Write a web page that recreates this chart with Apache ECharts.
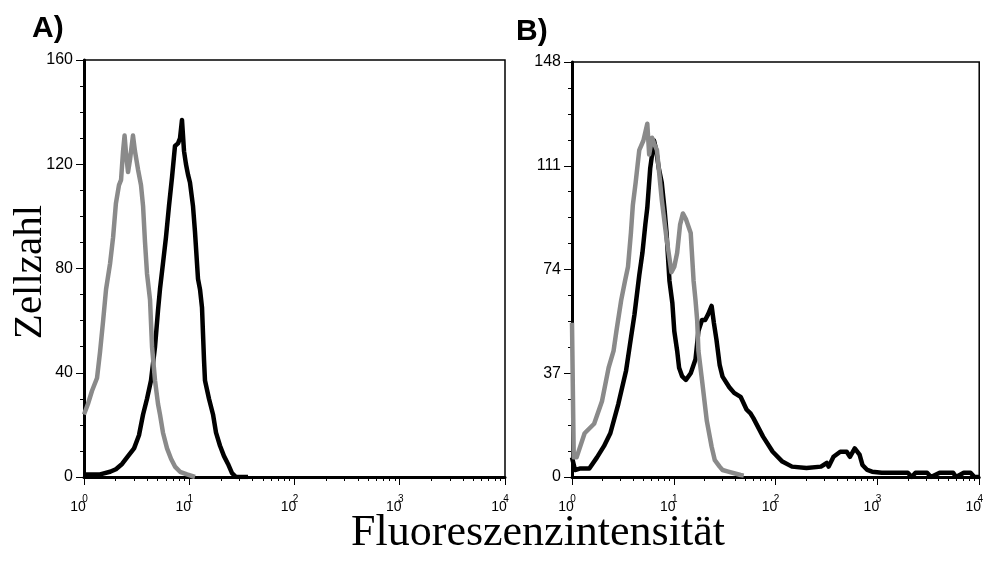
<!DOCTYPE html>
<html><head><meta charset="utf-8">
<script src="https://cdn.jsdelivr.net/npm/echarts@6/dist/echarts.min.js"></script>
<style>html,body{margin:0;padding:0;background:#fff}#c{width:996px;height:568px}</style>
</head><body><div id="c"></div>
<script>
const panelLabels = ['A)', 'B)'];
const yTitle = 'Zellzahl';
const xTitle = 'Fluoreszenzintensität';
const xMajorTicks = [1, 10, 100, 1000, 10000];
const xMinorTicks = [2,3,4,5,6,7,8,9,20,30,40,50,60,70,80,90,200,300,400,500,600,700,800,900,2000,3000,4000,5000,6000,7000,8000,9000];
const yMaxA = 160, yStepA = 40;
const yMaxB = 148, yStepB = 37;

// Panel A
const aGrayX = [1.00,1.09,1.19,1.33,1.42,1.52,1.62,1.77,1.89,2.01,2.15,2.25,2.35,2.43,2.51,2.62,2.74,2.92,3.05,3.26,3.48,3.64,3.80,3.97,4.24,4.43,4.73,5.05,5.27,5.63,6.15,6.71,7.32,8.17,9.52,11.34];
const aGrayY = [24,28,33,38,48,60,72,82,92,105,112,114,125,131,124,117,122,131,125,118,112,104,90,78,68,50,37,28,24,17,11,7,4,2,1,0];
const aBlackX = [1.00,1.42,1.77,2.01,2.30,2.62,2.99,3.33,3.64,3.97,4.33,4.73,5.05,5.27,5.63,6.01,6.42,6.86,7.32,7.82,8.17,8.53,8.92,9.31,9.73,10.16,10.85,11.34,12.11,12.65,13.22,13.51,13.81,14.11,15.40,16.82,17.96,19.60,21.39,23.35,25.48,27.81,36.16];
const aBlackY = [1,1,2,3,5,8,11,16,24,30,37,50,64,72,82,92,104,115,127,128,130,137,125,120,116,113,104,94,76,72,65,55,45,37,30,24,17,12,8,5,1.5,0,0];

// Panel B
const bGrayX = [1.00,1.04,1.11,1.33,1.65,1.97,2.29,2.56,2.73,3.04,3.32,3.55,3.79,3.96,4.22,4.58,5.03,5.49,5.73,6.12,6.39,6.83,7.61,8.49,9.06,9.47,10.11,10.79,11.53,12.30,13.14,14.66,15.64,16.34,16.96,17.45,18.92,21.10,23.53,25.28,28.20,30.11,33.58,45.30,48.67];
const bGrayY = [55,7,7,15.6,19,27,39,45,52,63,70,75,87,97,105,116.6,120,126,115,121,119,116.6,99,85,78,73,75,80,90,94,92,87,70,63,56,45,34.6,20,10.8,6,3.7,2.5,2,0.7,0.5];
const bBlackX = [1.00,1.07,1.19,1.48,1.76,2.06,2.38,2.85,3.40,3.70,4.11,4.58,4.92,5.25,5.49,5.86,6.12,6.39,6.68,7.13,7.61,8.13,8.49,9.06,9.68,10.11,10.79,11.27,12.04,13.14,14.66,16.34,17.45,18.92,20.33,21.71,23.53,24.74,26.24,28.20,30.11,35.08,39.13,45.30,51.95,56.33,60.5,75.3,93.7,116.5,144.9,201.1,279.0,318.0,332.2,370.5,431.7,499.5,537.0,598.9,667.7,713.0,795.4,887.1,1103,1989,2171,2368,3077,3358,4086,5548,5923,7052,8217,8967,10000];
const bBlackY = [7,2.5,3,3,7,11,15.6,26,38,47,58,72,80,90,96,110,115,120,117,110,105,95,87,70,62,52,45,39,36,34.6,37,42,52,56,56,58,61,55,49,40,35.8,32,30,28.6,24,22.8,21,14.4,9,5.5,3.7,3.2,3.7,5,3.7,7.2,9,9,7.2,10.2,8,4.3,2.5,1.9,1.5,1.5,0,1.5,1.5,0,1.5,1.5,0,1.5,1.5,0,0];

const GRAY = '#8a8a8a';
const pairs = (xs, ys) => xs.map((x, i) => [x, ys[i]]);

const grids = [
  {left: 84, top: 60, width: 421, height: 417},
  {left: 572, top: 62, width: 422, height: 415}
].map(g => Object.assign(g, {show: true, borderColor: '#000', borderWidth: 1.5, backgroundColor: 'transparent', containLabel: false}));

// Base "10" labels with major ticks
function majorX(gi) {
  return {
    type: 'log', logBase: 10, gridIndex: gi, min: 1, max: 10000, position: 'bottom',
    axisLine: {show: true, onZero: false, lineStyle: {color: '#000', width: 3}},
    axisTick: {show: true, customValues: xMajorTicks, length: 8, lineStyle: {color: '#000', width: 1}},
    splitLine: {show: false}, minorTick: {show: false},
    axisLabel: {
      show: true, customValues: xMajorTicks, margin: 23, padding: [0, 12, 0, 0],
      fontSize: 14, fontFamily: 'Liberation Sans', color: '#000', lineHeight: 14,
      formatter: () => '10'
    }
  };
}
// Minor ticks + exponent labels
function minorX(gi) {
  return {
    type: 'log', logBase: 10, gridIndex: gi, min: 1, max: 10000, position: 'bottom',
    axisLine: {show: false, onZero: false},
    axisTick: {show: true, customValues: xMinorTicks, length: 4, lineStyle: {color: '#000', width: 1}},
    axisLabel: {
      show: true, customValues: xMajorTicks, margin: 17, padding: [0, 0, 0, 2],
      fontSize: 10, fontFamily: 'Liberation Sans', color: '#000', lineHeight: 10,
      formatter: v => String(Math.round(Math.log10(v)))
    },
    splitLine: {show: false}
  };
}
function yAx(gi, max, step) {
  return {
    type: 'value', gridIndex: gi, min: 0, max: max, interval: step,
    axisLine: {show: true, onZero: false, lineStyle: {color: '#000', width: 3}},
    axisTick: {show: true, length: 8, lineStyle: {color: '#000', width: 1}},
    minorTick: {show: true, splitNumber: 4, length: 4, lineStyle: {color: '#000', width: 1}},
    splitLine: {show: false},
    axisLabel: {margin: 11, fontSize: 16, fontFamily: 'Liberation Sans', color: '#000'}
  };
}
function line(xi, yi, xs, ys, color) {
  return {
    type: 'line', xAxisIndex: xi, yAxisIndex: yi, data: pairs(xs, ys),
    showSymbol: false, symbol: 'none', smooth: false,
    lineStyle: {color: color, width: 4.5, join: 'round'}, animation: false
  };
}

const chart = echarts.init(document.getElementById('c'), null, {renderer: 'canvas'});
chart.setOption({
  animation: false,
  backgroundColor: '#fff',
  grid: grids,
  xAxis: [majorX(0), minorX(0), majorX(1), minorX(1)],
  yAxis: [yAx(0, yMaxA, yStepA), yAx(1, yMaxB, yStepB)],
  series: [
    line(0, 0, aBlackX, aBlackY, '#000'),
    line(0, 0, aGrayX, aGrayY, GRAY),
    line(2, 1, bBlackX, bBlackY, '#000'),
    line(2, 1, bGrayX, bGrayY, GRAY)
  ],
  graphic: [
    {type: 'text', x: 32, y: 29, style: {text: panelLabels[0], font: 'bold 30px "Liberation Sans"', fill: '#000', textAlign: 'left', textVerticalAlign: 'middle'}},
    {type: 'text', x: 516, y: 32, style: {text: panelLabels[1], font: 'bold 30px "Liberation Sans"', fill: '#000', textAlign: 'left', textVerticalAlign: 'middle'}},
    {type: 'text', x: 30, y: 272, rotation: Math.PI / 2, style: {text: yTitle, font: '41px "Liberation Serif"', fill: '#000', textAlign: 'center', textVerticalAlign: 'middle'}},
    {type: 'text', x: 538, y: 533, style: {text: xTitle, font: '44px "Liberation Serif"', fill: '#000', textAlign: 'center', textVerticalAlign: 'middle'}}
  ]
});
</script></body></html>
